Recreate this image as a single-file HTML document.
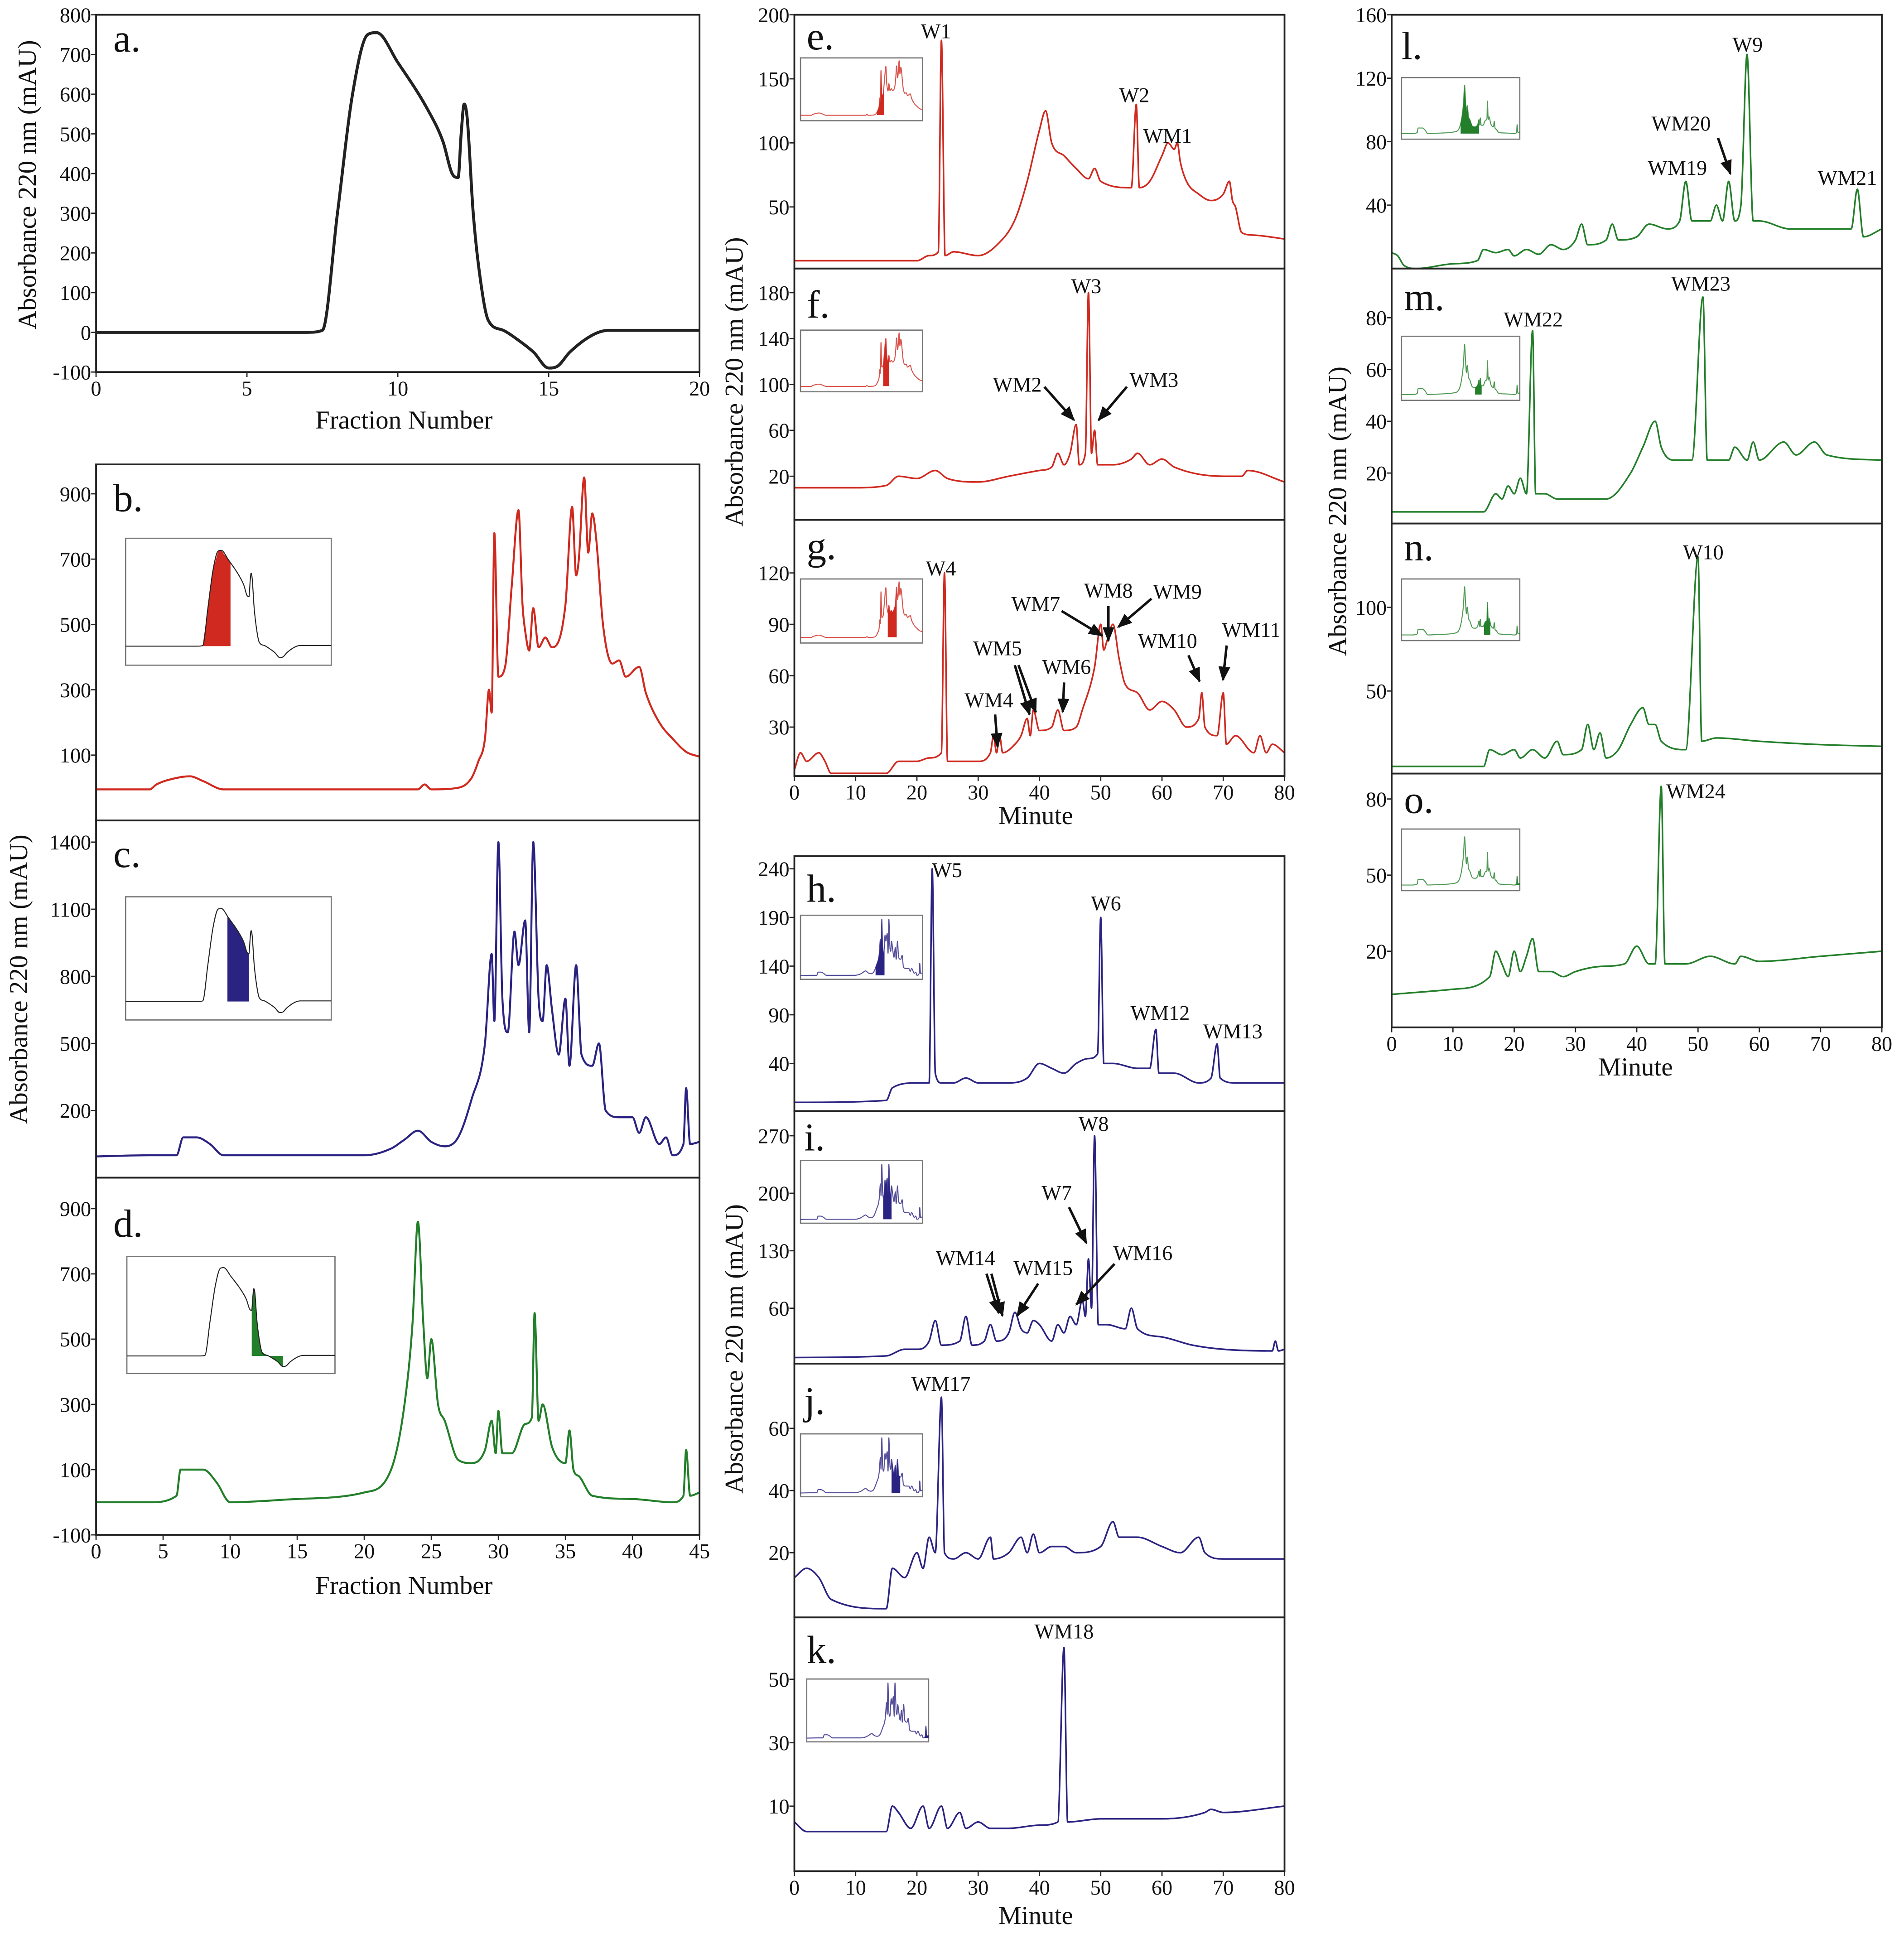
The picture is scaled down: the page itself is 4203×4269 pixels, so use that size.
<!DOCTYPE html>
<html><head><meta charset="utf-8"><style>
html,body{margin:0;padding:0;background:#fff}
svg{display:block}
text{font-family:"Liberation Serif",serif;fill:#111}
</style></head><body>
<svg id="fig" xmlns="http://www.w3.org/2000/svg" width="4203" height="4269" viewBox="0 0 1546 1570" preserveAspectRatio="none">
<rect width="1546" height="1570" fill="#fff"/>
</svg>
<script>
// ---- data (x, y) pairs ----
const seriesA=[[0,0],[7,0],[7.5,5],[8,300],[8.5,600],[9,750],[9.3,755],[10,680],[11,560],[11.5,480],[11.8,400],[12,390],[12.1,500],[12.2,575],[12.3,540],[12.5,300],[12.8,100],[13,30],[13.5,5],[14,-20],[14.5,-50],[15,-90],[15.3,-85],[15.7,-50],[16.5,-5],[17,5],[20,5]];
const seriesB=[[0,-5],[4,-5],[4.5,10],[6,30],[7,35],[8,20],[9.5,-5],[24,-5],[24.5,10],[25,-5],[27,0],[28,30],[28.5,80],[29,150],[29.3,300],[29.5,230],[29.7,780],[30,340],[30.5,370],[31,620],[31.5,850],[31.8,560],[32,480],[32.3,420],[32.6,550],[33,430],[33.5,460],[34,430],[35,560],[35.5,860],[35.8,650],[36,700],[36.4,950],[36.7,720],[37,840],[37.3,760],[37.8,500],[38.5,380],[39,390],[39.5,340],[40.5,370],[41,290],[42,200],[43,150],[44,110],[45,95]];
const seriesC=[[0,-5],[4,0],[6,0],[6.5,80],[7.5,80],[8.5,50],[9.5,0],[20,0],[22,30],[23,70],[24,110],[25,60],[26,40],[27,80],[28,250],[29,500],[29.5,900],[29.7,600],[30,1400],[30.3,700],[30.7,550],[31.2,1000],[31.5,850],[32,1050],[32.3,550],[32.6,1400],[33,700],[33.3,600],[33.6,850],[34,650],[34.5,450],[35,700],[35.3,400],[35.8,850],[36.2,450],[37,400],[37.5,500],[38,200],[39,170],[40,170],[40.5,100],[41,170],[42,50],[42.5,80],[43,0],[43.8,50],[44,300],[44.3,50],[45,60]];
const seriesD=[[0,0],[4,0],[6,20],[6.3,100],[8,100],[9,60],[10,0],[15,10],[20,30],[22,100],[23,300],[23.6,550],[24,860],[24.4,550],[24.7,380],[25,500],[25.5,300],[26,250],[27,130],[28,120],[29,160],[29.5,250],[29.8,150],[30,280],[30.3,150],[31,150],[32,240],[32.5,260],[32.7,580],[33,250],[33.3,300],[34,170],[35,120],[35.3,220],[35.6,100],[36,80],[37,20],[40,10],[43,0],[43.8,20],[44,160],[44.3,20],[45,30]];
const seriesE=[[0,8],[20,8],[22,12],[23.5,15],[24,180],[24.6,12],[26,15],[30,12],[33,20],[36,40],[38,70],[40,110],[41,125],[42,100],[44,90],[46,80],[48,72],[49,80],[50,70],[55,65],[55.8,130],[56.3,65],[58,70],[60,90],[61,100],[62,95],[62.5,100],[63,85],[64,70],[66,60],[68,55],[70,60],[71,70],[71.5,55],[72,50],[73,30],[75,28],[80,25]];
const seriesF=[[0,10],[10,10],[15,12],[17,20],[20,18],[23,25],[25,18],[30,15],[35,20],[40,25],[42,28],[43,40],[44,30],[45,40],[46,65],[46.5,30],[47.5,40],[48,180],[48.5,40],[49,60],[49.5,30],[52,30],[55,35],[56,40],[58,30],[60,35],[62,28],[70,20],[73,20],[74,25],[80,15]];
const seriesG=[[0,5],[1,15],[2,10],[4,15],[5,10],[6,3],[15,3],[17,10],[20,10],[22,12],[24,15],[24.5,120],[25,10],[28,10],[30,10],[32,15],[32.5,25],[33,15],[33.5,25],[34,15],[36,20],[37,25],[38,35],[38.5,25],[39,40],[40,28],[42,30],[43,40],[44,28],[46,30],[47,40],[49,65],[50,90],[50.5,75],[51,80],[52,90],[53,70],[54,55],[56,50],[58,40],[60,45],[62,40],[64,30],[66,35],[66.5,50],[67,30],[69,25],[70,50],[70.5,20],[72,25],[75,15],[76,25],[77,15],[78,20],[80,15]];
const seriesH=[[0,0],[15,2],[16,15],[20,20],[22,20],[22.5,240],[23,30],[24,20],[26,20],[28,25],[30,20],[35,20],[38,25],[40,40],[42,35],[44,30],[46,40],[48,45],[49.5,50],[50,190],[50.5,40],[52,40],[56,35],[58,35],[59,75],[59.5,30],[62,30],[66,20],[68,25],[69,60],[69.5,25],[72,20],[80,20]];
const seriesI=[[0,0],[15,2],[18,10],[20,10],[22,20],[23,45],[24,15],[27,20],[28,50],[29,15],[31,20],[32,40],[33,20],[35,30],[36,55],[37,35],[38,30],[39,45],[40,40],[42,20],[43,40],[44,30],[45,50],[46,40],[47,70],[47.5,50],[48,120],[48.5,60],[49,270],[49.6,40],[51,40],[54,35],[55,60],[56,35],[60,25],[65,15],[70,10],[78,8],[78.5,20],[79,8],[80,10]];
const seriesJ=[[0,12],[2,15],[4,12],[6,5],[15,2],[16,15],[18,12],[20,20],[21,15],[22,25],[23,20],[24,70],[24.5,20],[26,18],[28,20],[30,18],[32,25],[32.5,18],[35,20],[37,25],[38,20],[39,26],[40,20],[42,22],[44,22],[46,20],[50,22],[52,30],[53,25],[56,25],[60,22],[63,20],[66,25],[67,20],[70,18],[80,18]];
const seriesK=[[0,5],[2,2],[15,2],[16,10],[17,8],[19,3],[21,10],[22,3],[24,10],[25,3],[27,8],[28,3],[30,5],[32,3],[35,3],[40,4],[43,5],[44,60],[44.6,5],[50,6],[60,6],[67,8],[68,9],[70,8],[80,10]];
const seriesL=[[0,10],[1,8],[2,2],[4,0],[10,3],[14,5],[15,12],[17,10],[19,12],[20,8],[22,12],[24,9],[26,15],[28,12],[30,18],[31,28],[32,15],[35,18],[36,28],[37,18],[40,20],[42,28],[45,25],[47,30],[48,55],[49,30],[50,30],[52,30],[53,40],[54,30],[55,55],[56,30],[57,40],[58,135],[59,30],[60,30],[65,25],[70,25],[75,25],[76,50],[77,20],[80,25]];
const seriesM=[[0,5],[15,5],[17,12],[18,10],[19,15],[20,12],[21,18],[22,12],[23,75],[23.5,12],[25,12],[27,10],[35,10],[39,20],[41,30],[43,40],[44,30],[46,25],[49,25],[50.8,88],[51.5,25],[55,25],[56,30],[58,25],[59,32],[60,25],[64,32],[66,27],[69,32],[71,27],[80,25]];
const seriesN=[[0,5],[15,5],[16,15],[18,12],[20,15],[21,10],[23,15],[25,10],[27,20],[28,12],[31,15],[32,30],[33,15],[34,25],[35,10],[37,15],[39,30],[41,40],[42,30],[43,30],[44,20],[48,15],[50,130],[50.6,20],[53,22],[60,20],[70,18],[80,17]];
const seriesO=[[0,3],[10,5],[16,10],[17,20],[18,15],[19,10],[20,20],[21,12],[22,18],[23,25],[24,12],[26,12],[28,10],[30,12],[34,14],[38,15],[40,22],[42,15],[43,15],[44,85],[44.6,15],[48,15],[52,18],[56,15],[57,18],[60,16],[70,18],[80,20]];

const ticksA=[-100,0,100,200,300,400,500,600,700,800], ticksB=[100,300,500,700,900], ticksC=[200,500,800,1100,1400], ticksD=[-100,100,300,500,700,900];
const ticksE=[50,100,150,200], ticksF=[20,60,100,140,180], ticksG=[30,60,90,120], ticksH=[40,90,140,190,240], ticksI=[60,130,200,270], ticksJ=[20,40,60], ticksK=[10,30,50];
const ticksL=[40,80,120,160], ticksM=[20,40,60,80], ticksN=[50,100], ticksO=[20,50,80];
const xTicksFrac20=[0,5,10,15,20], xTicksFrac45=[0,5,10,15,20,25,30,35,40,45], xTicksMin=[0,10,20,30,40,50,60,70,80];

const RED='#d0291f', BLUE='#2b2382', GREEN='#237f2a';
const NS='http://www.w3.org/2000/svg';
const svg=document.getElementById('fig');
function el(tag,attrs,parent){const e=document.createElementNS(NS,tag);for(const k in attrs)e.setAttribute(k,attrs[k]);(parent||svg).appendChild(e);return e;}
function txt(s,x,y,size,parent,anchor){const t=el('text',{x:x,y:y,'font-size':size,'text-anchor':anchor||'middle'},parent);t.textContent=s;return t;}

// monotone cubic path through screen points
function smoothPath(P){
  const n=P.length;if(n<2)return '';
  const d=[],m=[];
  for(let i=0;i<n-1;i++){const dx=P[i+1][0]-P[i][0];d.push(dx?(P[i+1][1]-P[i][1])/dx:0);}
  m[0]=d[0];m[n-1]=d[n-2];
  for(let i=1;i<n-1;i++){m[i]=(d[i-1]*d[i]<=0)?0:(d[i-1]+d[i])/2;}
  for(let i=0;i<n-1;i++){
    if(d[i]===0){m[i]=0;m[i+1]=0;continue;}
    const a=m[i]/d[i],b=m[i+1]/d[i],s=a*a+b*b;
    if(s>9){const t=3/Math.sqrt(s);m[i]=t*a*d[i];m[i+1]=t*b*d[i];}
  }
  let s='M'+P[0][0].toFixed(2)+','+P[0][1].toFixed(2);
  for(let i=0;i<n-1;i++){
    const h=(P[i+1][0]-P[i][0])/3;
    s+='C'+(P[i][0]+h).toFixed(2)+','+(P[i][1]+m[i]*h).toFixed(2)+' '+(P[i+1][0]-h).toFixed(2)+','+(P[i+1][1]-m[i+1]*h).toFixed(2)+' '+P[i+1][0].toFixed(2)+','+P[i+1][1].toFixed(2);
  }
  return s;
}

const panels=[
 {id:'a',data:seriesA,color:'#222',sw:2.4,x0:78,x1:568,y0:12,y1:302,xd:[0,20],yd:[-100,800],yt:ticksA,xt:xTicksFrac20,lbl:[92,42]},
 {id:'b',data:seriesB,color:RED,x0:78,x1:568,y0:377,y1:666,xd:[0,45],yd:[-100,990],yt:ticksB,lbl:[92,415],inset:{box:[102,437,269,540],src:seriesA,xd:[0,20],yd:[-150,850],fill:[7.3,10.2],col:RED,thin:'#222'}},
 {id:'c',data:seriesC,color:BLUE,x0:78,x1:568,y0:666,y1:956,xd:[0,45],yd:[-100,1497],yt:ticksC,lbl:[92,704],inset:{box:[102,728,269,828],src:seriesA,xd:[0,20],yd:[-150,850],fill:[9.9,12],col:BLUE,thin:'#222'}},
 {id:'d',data:seriesD,color:GREEN,x0:78,x1:568,y0:956,y1:1246,xd:[0,45],yd:[-100,995],yt:ticksD,xt:xTicksFrac45,lbl:[92,1004],inset:{box:[103,1020,272,1115],src:seriesA,xd:[0,20],yd:[-150,850],fill:[12,15],col:GREEN,thin:'#222'}},
 {id:'e',data:seriesE,color:RED,x0:645,x1:1043,y0:12,y1:218,xd:[0,80],yd:[1.9,200],yt:ticksE,lbl:[655,40],inset:{box:[650,47,749,98],src:seriesB,xd:[0,45],yd:[-100,1000],fill:[28.2,30.9],col:RED}},
 {id:'f',data:seriesF,color:RED,x0:645,x1:1043,y0:218,y1:422,xd:[0,80],yd:[-18,201],yt:ticksF,lbl:[655,258],inset:{box:[650,268,749,318],src:seriesB,xd:[0,45],yd:[-100,1000],fill:[30.5,32.7],col:RED}},
 {id:'g',data:seriesG,color:RED,x0:645,x1:1043,y0:422,y1:630,xd:[0,80],yd:[1.4,151],yt:ticksG,xt:xTicksMin,lbl:[655,454],inset:{box:[650,470,749,522],src:seriesB,xd:[0,45],yd:[-100,1000],fill:[32.2,35.5],col:RED}},
 {id:'h',data:seriesH,color:BLUE,x0:645,x1:1043,y0:695,y1:902,xd:[0,80],yd:[-9,253],yt:ticksH,lbl:[655,732],inset:{box:[650,743,749,795],src:seriesC,xd:[0,45],yd:[-100,1500],fill:[27.7,31],col:BLUE}},
 {id:'i',data:seriesI,color:BLUE,x0:645,x1:1043,y0:902,y1:1107,xd:[0,80],yd:[-7.5,300],yt:ticksI,lbl:[653,934],inset:{box:[650,942,749,993],src:seriesC,xd:[0,45],yd:[-100,1500],fill:[30.5,33.6],col:BLUE}},
 {id:'j',data:seriesJ,color:BLUE,x0:645,x1:1043,y0:1107,y1:1313,xd:[0,80],yd:[-0.8,80.8],yt:ticksJ,lbl:[653,1148],inset:{box:[650,1164,749,1215],src:seriesC,xd:[0,45],yd:[-100,1500],fill:[33.6,36.8],col:BLUE}},
 {id:'k',data:seriesK,color:BLUE,x0:645,x1:1043,y0:1313,y1:1519,xd:[0,80],yd:[-10.5,69.5],yt:ticksK,xt:xTicksMin,lbl:[655,1350],inset:{box:[655,1363,754,1414],src:seriesC,xd:[0,45],yd:[-100,1500],fill:[43.6,45],col:BLUE}},
 {id:'l',data:seriesL,color:GREEN,x0:1130,x1:1528,y0:12,y1:218,xd:[0,80],yd:[0,160],yt:ticksL,lbl:[1138,48],inset:{box:[1138,63,1234,113],src:seriesD,xd:[0,45],yd:[-100,1000],fill:[22.5,29.5],col:GREEN}},
 {id:'m',data:seriesM,color:GREEN,x0:1130,x1:1528,y0:218,y1:425,xd:[0,80],yd:[0.5,99],yt:ticksM,lbl:[1140,252],inset:{box:[1138,273,1234,325],src:seriesD,xd:[0,45],yd:[-100,1000],fill:[28,30.5],col:GREEN}},
 {id:'n',data:seriesN,color:GREEN,x0:1130,x1:1528,y0:425,y1:628,xd:[0,80],yd:[0.7,150],yt:ticksN,lbl:[1140,455],inset:{box:[1138,470,1234,520],src:seriesD,xd:[0,45],yd:[-100,1000],fill:[31.4,33.8],col:GREEN}},
 {id:'o',data:seriesO,color:GREEN,x0:1130,x1:1528,y0:628,y1:834,xd:[0,80],yd:[-10,90],yt:ticksO,xt:xTicksMin,lbl:[1140,660],inset:{box:[1138,673,1234,723],src:seriesD,xd:[0,45],yd:[-100,1000],fill:[42.7,45],col:GREEN}}
];

function mkScale(a0,a1,d){return v=>a0+(v-d[0])/(d[1]-d[0])*(a1-a0);}
function interp(data,x){for(let i=1;i<data.length;i++){if(data[i][0]>=x){const a=data[i-1],b=data[i];const t=(x-a[0])/(b[0]-a[0]||1);return a[1]+t*(b[1]-a[1]);}}return data[data.length-1][1];}

panels.forEach(p=>{
  const g=el('g',{});
  
  
  const sx=mkScale(p.x0,p.x1,p.xd), sy=mkScale(p.y1,p.y0,p.yd);
  const cp=el('clipPath',{id:'clip-'+p.id},g);
  el('rect',{x:p.x0,y:p.y0,width:p.x1-p.x0,height:p.y1-p.y0},cp);
  const path=el('path',{d:smoothPath(p.data.map(d=>[sx(d[0]),sy(d[1])])),fill:'none',stroke:p.color,'stroke-width':p.sw||(p.x0>600?1.3:1.6),'stroke-linejoin':'round','clip-path':'url(#clip-'+p.id+')'},g);
  
  
  const frame=el('rect',{x:p.x0,y:p.y0,width:p.x1-p.x0,height:p.y1-p.y0,fill:'none',stroke:'#222','stroke-width':1.4},g);
  
  
  p.yt.forEach(v=>{
    const y=sy(v);
    el('line',{x1:p.x0-4,x2:p.x0,y1:y,y2:y,stroke:'#222','stroke-width':1},g);
    const t=txt(String(v),p.x0-4,y+6,17,g,'end');
    
    
  });
  if(p.xt){p.xt.forEach(v=>{
    const x=sx(v);
    el('line',{x1:x,x2:x,y1:p.y1,y2:p.y1+4,stroke:'#222','stroke-width':1},g);
    const t=txt(String(v),x,p.y1+19,17,g);
    
    
  });}
  const L=txt(p.id+'.',p.lbl[0],p.lbl[1],32,g,'start');
  
  
  if(p.inset){
    const q=p.inset,[bx0,by0,bx1,by1]=q.box;
    const ig=el('g',{},g);
    
    
    const ix=mkScale(bx0,bx1,q.xd), iy=mkScale(by1,by0,q.yd);
    el('rect',{x:bx0,y:by0,width:bx1-bx0,height:by1-by0,fill:'#fff',stroke:'#777','stroke-width':1},ig);
    const pts=[[q.fill[0],interp(q.src,q.fill[0])]];
    q.src.forEach(d=>{if(d[0]>q.fill[0]&&d[0]<q.fill[1])pts.push(d);});
    pts.push([q.fill[1],interp(q.src,q.fill[1])]);
    const poly=pts.map(d=>ix(d[0]).toFixed(2)+','+iy(d[1]).toFixed(2));
    poly.push(ix(q.fill[1]).toFixed(2)+','+iy(0).toFixed(2));
    poly.push(ix(q.fill[0]).toFixed(2)+','+iy(0).toFixed(2));
    const f=el('polygon',{points:poly.join(' '),fill:q.col},ig);
    
    
    el('path',{d:smoothPath(q.src.map(d=>[ix(d[0]),iy(d[1])])),fill:'none',stroke:q.thin||q.col,'stroke-width':0.8,'stroke-opacity':q.thin?1:0.8},ig);
  }
});

// axis titles
function rot(s,x,y,name){const t=el('text',{x:x,y:y,'font-size':21,'text-anchor':'middle',transform:'rotate(-90 '+x+' '+y+')'});t.textContent=s;}
rot('Absorbance 220 nm (mAU)',29,150,'y-axis-title-a');
rot('Absorbance 220 nm (mAU)',22,795,'y-axis-title-bcd');
rot('Absorbance 220 nm (mAU)',603,310,'y-axis-title-efg');
rot('Absorbance 220 nm (mAU)',603,1095,'y-axis-title-hijk');
rot('Absorbance 220 nm (mAU)',1093,415,'y-axis-title-lmno');
function xt(s,x,y,name){const t=txt(s,x,y,21);}
xt('Fraction Number',328,348,'x-axis-title-a');
xt('Fraction Number',328,1294,'x-axis-title-bcd');
xt('Minute',841,669,'x-axis-title-efg');
xt('Minute',841,1562,'x-axis-title-hijk');
xt('Minute',1328,873,'x-axis-title-lmno');

// peak annotations
const annots=[['W1',760,31],['W2',921,83],['WM1',948,116],['W3',882,238],['WM2',826,318],['WM3',937,314],
['W4',764,467],['WM4',803,574],['WM5',810,532],['WM6',866,547],['WM7',841,496],['WM8',900,485],['WM9',956,486],['WM10',948,526],['WM11',1016,517],
['W5',769,712],['W6',898,739],['WM12',942,828],['WM13',1001,843],['W8',888,918],['W7',858,974],['WM14',784,1027],['WM15',847,1035],['WM16',928,1023],
['WM17',764,1129],['WM18',864,1330],['W9',1419,42],['WM20',1365,106],['WM19',1362,142],['WM21',1500,150],['WM22',1245,265],['WM23',1381,236],['W10',1383,454],['WM24',1377,648]];
annots.forEach(a=>{const t=txt(a[0],a[1],a[2],17);});
const defs=el('defs',{});
const mk=el('marker',{id:'ah',viewBox:'0 0 10 10',refX:9,refY:5,markerWidth:6,markerHeight:6,orient:'auto'},defs);
el('path',{d:'M0,1 L10,5 L0,9 Z',fill:'#111'},mk);
const arrows=[[848,314,872,341],[915,314,892,341],[808,580,810,606],[824,540,836,580],[827,540,841,578],[864,554,863,578],[862,496,895,516],[900,492,900,520],[935,486,908,509],[965,532,974,553],[996,524,993,552],
[868,980,882,1009],[801,1034,811,1066],[805,1034,814,1068],[843,1042,826,1068],[905,1026,874,1059],[1395,112,1405,141]];
arrows.forEach(a=>{const l=el('line',{x1:a[0],y1:a[1],x2:a[2],y2:a[3],stroke:'#111','stroke-width':2,'marker-end':'url(#ah)'});});
</script>
</body></html>
